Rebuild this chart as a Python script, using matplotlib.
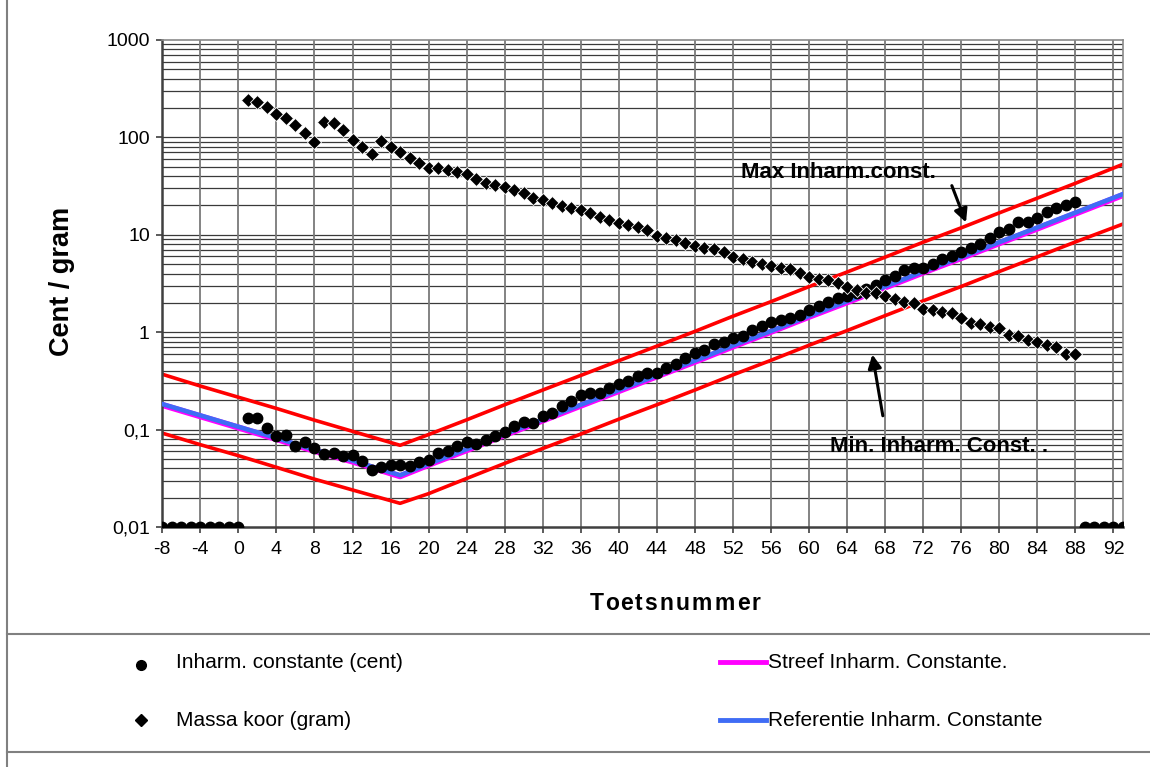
import matplotlib
matplotlib.use("Agg")
import matplotlib.pyplot as plt
from matplotlib.lines import Line2D
from matplotlib.font_manager import FontProperties
from matplotlib.ticker import FixedLocator, FixedFormatter, NullLocator

plt.rcParams['font.family'] = ['Liberation Sans', 'DejaVu Sans']
plt.rcParams['axes.unicode_minus'] = False

# ---------------- data ----------------
inharm_keys = list(range(-8, 94))
inharm_vals = [0.01] * 9 + [
    0.132, 0.132, 0.105, 0.086, 0.087, 0.068, 0.075, 0.064, 0.056, 0.058,
    0.054, 0.055, 0.048, 0.0385, 0.041, 0.043, 0.043, 0.042, 0.046, 0.049,
    0.058, 0.061, 0.068, 0.075, 0.071, 0.078, 0.086, 0.095, 0.109, 0.120,
    0.118, 0.137, 0.149, 0.175, 0.198, 0.226, 0.239, 0.239, 0.265, 0.297,
    0.318, 0.355, 0.384, 0.384, 0.426, 0.472, 0.545, 0.616, 0.650, 0.752,
    0.796, 0.870, 0.916, 1.05, 1.16, 1.26, 1.34, 1.40, 1.51, 1.69,
    1.84, 2.06, 2.24, 2.34, 2.50, 2.75, 3.07, 3.42, 3.79, 4.35,
    4.56, 4.53, 4.96, 5.60, 6.09, 6.69, 7.27, 8.00, 9.27, 10.6,
    11.5, 13.6, 13.6, 14.8, 17.1, 18.9, 20.0, 21.9] + [0.01] * 5

mass_keys = list(range(1, 89))
mass_vals = [
    242, 229, 204, 174, 157, 134, 110, 89, 145, 140,
    119, 94, 79, 67, 92, 79, 71, 61, 55, 48,
    48, 46, 44, 42, 37, 34.3, 32.5, 30.7, 28.8, 27.0,
    23.7, 22.8, 21.4, 19.8, 18.7, 18.0, 16.9, 15.1, 14.2, 13.3,
    12.6, 12.1, 11.2, 9.7, 9.2, 8.85, 8.2, 7.7, 7.4, 7.1,
    6.7, 5.9, 5.6, 5.3, 5.0, 4.8, 4.6, 4.42, 4.03, 3.72,
    3.49, 3.44, 3.22, 2.93, 2.71, 2.55, 2.51, 2.35, 2.18, 2.06,
    1.98, 1.72, 1.69, 1.62, 1.56, 1.39, 1.25, 1.21, 1.12, 1.10,
    0.94, 0.91, 0.83, 0.80, 0.74, 0.70, 0.60, 0.60]

line_keys = [-8, -4, 0, 4, 8, 12, 17, 20, 24, 28, 32, 36, 40, 44, 48,
             52, 56, 60, 64, 68, 72, 76, 80, 84, 88, 93]
ref_vals = [0.183, 0.140, 0.107, 0.082, 0.062, 0.048, 0.034, 0.0445, 0.063,
            0.090, 0.127, 0.180, 0.255, 0.36, 0.51, 0.73, 1.03, 1.47, 2.08,
            2.95, 4.2, 5.9, 8.4, 11.9, 16.9, 26.2]
streef_vals = [0.179, 0.137, 0.105, 0.080, 0.0605, 0.047, 0.0332, 0.0435,
               0.0615, 0.088, 0.124, 0.176, 0.249, 0.352, 0.498, 0.713, 1.01,
               1.44, 2.03, 2.88, 4.1, 5.77, 8.2, 11.6, 16.5, 25.6]
max_vals = [0.37, 0.28, 0.215, 0.165, 0.125, 0.096, 0.069, 0.089, 0.126,
            0.18, 0.255, 0.36, 0.51, 0.72, 1.02, 1.46, 2.06, 2.94, 4.15,
            5.9, 8.4, 11.8, 16.8, 23.8, 33.8, 53]
min_vals = [0.092, 0.070, 0.054, 0.041, 0.031, 0.024, 0.0175, 0.022, 0.0315,
            0.045, 0.064, 0.09, 0.128, 0.18, 0.255, 0.365, 0.515, 0.735, 1.04,
            1.48, 2.1, 2.95, 4.2, 5.95, 8.45, 12.9]

x_ticks = list(range(-8, 93, 4))
y_ticks = [0.01, 0.1, 1, 10, 100, 1000]
y_tick_labels = ["0,01", "0,1", "1", "10", "100", "1000"]

label_inharm = "Inharm. constante (cent)"
label_mass = "Massa koor (gram)"
label_streef = "Streef Inharm. Constante."
label_ref = "Referentie Inharm. Constante"

# ---------------- figure ----------------
W, H = 1150, 767
fig = plt.figure(figsize=(W / 100, H / 100), dpi=100)
fig.patch.set_facecolor('white')

ax = fig.add_axes([162.3 / W, 1 - 527 / H, (1123 - 162.3) / W, (527 - 40) / H])
ax.set_yscale('log')
ax.set_xlim(-8, 93)
ax.set_ylim(0.01, 1000)

# grid
minor_y = [m * 10.0 ** e for e in range(-2, 3) for m in range(2, 10)]
ax.yaxis.set_major_locator(FixedLocator(y_ticks))
ax.yaxis.set_major_formatter(FixedFormatter(y_tick_labels))
ax.yaxis.set_minor_locator(FixedLocator(minor_y))
ax.xaxis.set_major_locator(FixedLocator(x_ticks))
ax.xaxis.set_minor_locator(NullLocator())
for yv in y_ticks[1:-1] + minor_y:
    ax.axhline(yv, color='#3a3a3a', lw=0.9, zorder=0.5)
for xv in x_ticks:
    ax.axvline(xv, color='#7a7a7a', lw=1.3, zorder=0.5)

ax.tick_params(axis='both', which='major', direction='out', length=4,
               width=1.2, color='#404040', labelsize=14)
ax.tick_params(axis='y', which='minor', length=0)
ax.tick_params(axis='x', pad=6)
ax.tick_params(axis='y', pad=5)
for side in ['left', 'bottom']:
    ax.spines[side].set_color('#404040')
    ax.spines[side].set_linewidth(1.8)
for side in ['top', 'right']:
    ax.spines[side].set_color('#8a8a8a')
    ax.spines[side].set_linewidth(1.2)

# lines
ax.plot(line_keys, max_vals, color='#ff0000', lw=2.6, zorder=2)
ax.plot(line_keys, min_vals, color='#ff0000', lw=2.6, zorder=2)
ax.plot(line_keys, streef_vals, color='#ff00ff', lw=4.4, zorder=2.5)
ax.plot(line_keys, ref_vals, color='#3f6cf5', lw=3.3, zorder=2.6)

# markers
ax.plot(inharm_keys, inharm_vals, 'o', color='black', ms=7.5, zorder=3)
ax.plot(mass_keys, mass_vals, 'D', color='black', ms=7, mec='white', mew=0.6, zorder=3)

# annotations (arrows)
ax.annotate("", xy=(76.6, 12.6), xytext=(74.9, 34.0),
            arrowprops=dict(arrowstyle='-|>', color='black', lw=2.2,
                            mutation_scale=20), zorder=4)
ax.annotate("", xy=(66.6, 0.63), xytext=(67.8, 0.13),
            arrowprops=dict(arrowstyle='-|>', color='black', lw=2.2,
                            mutation_scale=20), zorder=4)
fig.text(741 / W, 1 - 172 / H, "Max Inharm.const.", fontsize=16,
         fontweight='bold', ha='left', va='center')
fig.text(830 / W, 1 - 446 / H, "Min. Inharm. Const. .", fontsize=16,
         fontweight='bold', ha='left', va='center')

# y label
fig.text(62 / W, 1 - 281 / H, "Cent / gram", fontsize=19.5, fontweight='bold',
         rotation=90, ha='center', va='center')

# x label with letter spacing
fp = FontProperties(family=['Liberation Sans'], weight='bold', size=16.5)
renderer = fig.canvas.get_renderer()
word = "Toetsnummer"
spacing = 2.2
def tw(s):
    if not s:
        return 0.0
    return renderer.get_text_width_height_descent(s, fp, ismath=False)[0]
total = tw(word) + spacing * (len(word) - 1)
x0 = 675 - total / 2
for i, ch in enumerate(word):
    fig.text((x0 + tw(word[:i]) + i * spacing) / W, 1 - 604 / H, ch,
             fontproperties=fp, ha='left', va='center')

# frame and legend box
fig.add_artist(Line2D([7 / W, 7 / W], [0, 1], transform=fig.transFigure,
                      color='#808080', lw=1.5))
for yy in [634, 752]:
    fig.add_artist(Line2D([7 / W, 1], [1 - yy / H, 1 - yy / H],
                          transform=fig.transFigure, color='#808080', lw=1.5))

fig.add_artist(Line2D([141 / W], [1 - 665 / H], transform=fig.transFigure,
                      marker='o', color='black', ms=7, ls='none'))
fig.add_artist(Line2D([141 / W], [1 - 720 / H], transform=fig.transFigure,
                      marker='D', color='black', ms=6.5, ls='none'))
fig.add_artist(Line2D([720 / W, 766 / W], [1 - 662 / H, 1 - 662 / H],
                      transform=fig.transFigure, color='#ff00ff', lw=3.5))
fig.add_artist(Line2D([720 / W, 766 / W], [1 - 720 / H, 1 - 720 / H],
                      transform=fig.transFigure, color='#3f6cf5', lw=3.5))
fig.text(176 / W, 1 - 663 / H, label_inharm, fontsize=15, ha='left', va='center')
fig.text(176 / W, 1 - 720 / H, label_mass, fontsize=15, ha='left', va='center')
fig.text(768 / W, 1 - 662 / H, label_streef, fontsize=15, ha='left', va='center')
fig.text(768 / W, 1 - 720 / H, label_ref, fontsize=15, ha='left', va='center')

fig.savefig("out.png", dpi=100, facecolor='white')
